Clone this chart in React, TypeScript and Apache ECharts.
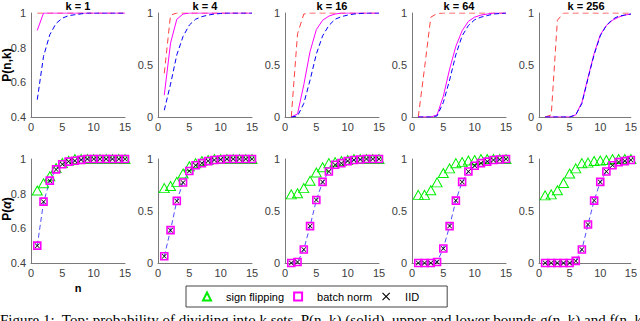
import React, { useEffect, useRef } from "react";
import * as echarts from "echarts";

const nValues = [1, 2, 3, 4, 5, 6, 7, 8, 9, 10, 11, 12, 13, 14, 15];
const kValues = [1, 4, 16, 64, 256];

// Top row: upper bound (red dashed), P(n,k) (magenta solid), lower bound (blue dashed)
const upperK1 = [1, 1, 1, 1, 1, 1, 1, 1, 1, 1, 1, 1, 1, 1, 1];
const upperK4 = [0.42, 0.98, 1, 1, 1, 1, 1, 1, 1, 1, 1, 1, 1, 1, 1];
const upperK16 = [0, 0.8, 0.99, 1, 1, 1, 1, 1, 1, 1, 1, 1, 1, 1, 1];
const upperK64 = [0, 0.47, 0.96, 0.995, 1, 1, 1, 1, 1, 1, 1, 1, 1, 1, 1];
const upperK256 = [0, 0.02, 0.93, 1, 1, 1, 1, 1, 1, 1, 1, 1, 1, 1, 1];

const probK1 = [0.9, 1, 1, 1, 1, 1, 1, 1, 1, 1, 1, 1, 1, 1, 1];
const probK4 = [0.21, 0.71, 0.94, 0.99, 1, 1, 1, 1, 1, 1, 1, 1, 1, 1, 1];
const probK16 = [0, 0.03, 0.31, 0.63, 0.84, 0.93, 0.97, 0.99, 1, 1, 1, 1, 1, 1, 1];
const probK64 = [0, 0, 0, 0.02, 0.2, 0.46, 0.68, 0.83, 0.92, 0.96, 0.98, 0.99, 1, 1, 1];
const probK256 = [0, 0, 0, 0, 0, 0.02, 0.14, 0.38, 0.61, 0.79, 0.88, 0.93, 0.96, 0.98, 0.99];

const lowerK1 = [0.5, 0.75, 0.875, 0.94, 0.97, 0.985, 0.99, 0.995, 1, 1, 1, 1, 1, 1, 1];
const lowerK4 = [0.065, 0.316, 0.597, 0.775, 0.884, 0.94, 0.965, 0.98, 0.99, 0.995, 1, 1, 1, 1, 1];
const lowerK16 = [0, 0.01, 0.13, 0.355, 0.605, 0.78, 0.88, 0.94, 0.965, 0.98, 0.99, 0.995, 1, 1, 1];
const lowerK64 = [0, 0, 0, 0.01, 0.14, 0.355, 0.6, 0.78, 0.88, 0.935, 0.96, 0.975, 0.99, 0.995, 1];
const lowerK256 = [0, 0, 0, 0, 0, 0.02, 0.13, 0.37, 0.6, 0.78, 0.88, 0.94, 0.97, 0.98, 0.99];

// Bottom row: empirical P(alpha)
const signK1 = [0.818, 0.86, 0.9, 0.948, 0.977, 0.99, 1, 1, 1, 1, 1, 1, 1, 1, 1];
const signK4 = [0.72, 0.74, 0.78, 0.86, 0.93, 0.96, 0.98, 0.99, 1, 1, 1, 1, 1, 1, 1];
const signK16 = [0.66, 0.67, 0.72, 0.79, 0.87, 0.92, 0.96, 0.97, 0.98, 0.99, 1, 1, 1, 1, 1];
const signK64 = [0.655, 0.655, 0.7, 0.775, 0.865, 0.91, 0.96, 0.97, 0.985, 0.99, 1, 1, 1, 1, 1];
const signK256 = [0.65, 0.66, 0.7, 0.77, 0.86, 0.91, 0.96, 0.965, 0.98, 0.985, 0.99, 1, 1, 1, 1];

const batchK1 = [0.5, 0.754, 0.875, 0.94, 0.97, 0.985, 0.99, 0.995, 1, 1, 1, 1, 1, 1, 1];
const batchK4 = [0.065, 0.316, 0.597, 0.774, 0.884, 0.94, 0.96, 0.98, 0.99, 0.995, 1, 1, 1, 1, 1];
const batchK16 = [0, 0.01, 0.13, 0.355, 0.606, 0.78, 0.88, 0.945, 0.96, 0.98, 0.99, 0.995, 1, 1, 1];
const batchK64 = [0, 0, 0, 0.01, 0.14, 0.355, 0.6, 0.78, 0.88, 0.935, 0.96, 0.975, 0.99, 0.995, 1];
const batchK256 = [0, 0, 0, 0, 0, 0.02, 0.13, 0.37, 0.6, 0.78, 0.88, 0.94, 0.97, 0.98, 0.99];

const iidK1 = [0.5, 0.754, 0.875, 0.94, 0.97, 0.985, 0.99, 0.995, 1, 1, 1, 1, 1, 1, 1];
const iidK4 = [0.065, 0.316, 0.597, 0.774, 0.884, 0.94, 0.96, 0.98, 0.99, 0.995, 1, 1, 1, 1, 1];
const iidK16 = [0, 0.01, 0.13, 0.355, 0.606, 0.78, 0.88, 0.945, 0.96, 0.98, 0.99, 0.995, 1, 1, 1];
const iidK64 = [0, 0, 0, 0.01, 0.14, 0.355, 0.6, 0.78, 0.88, 0.935, 0.96, 0.975, 0.99, 0.995, 1];
const iidK256 = [0, 0, 0, 0, 0, 0.02, 0.13, 0.37, 0.6, 0.78, 0.88, 0.94, 0.97, 0.98, 0.99];

const upper = [upperK1, upperK4, upperK16, upperK64, upperK256];
const prob = [probK1, probK4, probK16, probK64, probK256];
const lower = [lowerK1, lowerK4, lowerK16, lowerK64, lowerK256];
const sign = [signK1, signK4, signK16, signK64, signK256];
const batch = [batchK1, batchK4, batchK16, batchK64, batchK256];
const iid = [iidK1, iidK4, iidK16, iidK64, iidK256];

const xTicks = { min: 0, max: 15, interval: 5 };
const yTicksK1 = { min: 0.4, max: 1, interval: 0.2 };
const yTicksOther = { min: 0, max: 1, interval: 0.5 };

const captionText =
  "Figure 1:  Top: probability of dividing into k sets, P(n, k) (solid), upper and lower bounds g(n, k) and f(n, k)";

const FONT = '"Liberation Sans", Arial, sans-serif';
const X_SHAPE =
  "path://M1,0 L5,4 L9,0 L10,1 L6,5 L10,9 L9,10 L5,6 L1,10 L0,9 L4,5 L0,1 Z";

const App: React.FC = () => {
  const ref = useRef<HTMLDivElement>(null);

  useEffect(() => {
    if (!ref.current) return;
    const chart = echarts.init(ref.current, undefined, { renderer: "svg" });

    const lefts = [31, 158, 285, 412, 539];
    const width = 94;
    const grids: any[] = [];
    const xAxes: any[] = [];
    const yAxes: any[] = [];
    const series: any[] = [];
    const graphics: any[] = [];

    const axisColor = "#7a7a7a";
    const labelColor = "#404040";
    const fmt = (v: number) => String(+v.toFixed(2));

    for (let row = 0; row < 2; row++) {
      for (let i = 0; i < 5; i++) {
        const idx = row * 5 + i;
        grids.push({
          left: lefts[i],
          top: row === 0 ? 13 : 159,
          width,
          height: 104,
          containLabel: false,
        });
        xAxes.push({
          type: "value",
          gridIndex: idx,
          ...xTicks,
          axisLine: { show: true, lineStyle: { color: axisColor, width: 1 } },
          axisTick: { show: false },
          splitLine: { show: false },
          axisLabel: { fontSize: 11, color: labelColor, margin: 4, fontFamily: FONT },
        });
        const yt = i === 0 ? yTicksK1 : yTicksOther;
        yAxes.push({
          type: "value",
          gridIndex: idx,
          ...yt,
          axisLine: { show: true, lineStyle: { color: axisColor, width: 1 } },
          axisTick: { show: false },
          splitLine: { show: false },
          axisLabel: {
            fontSize: 11,
            color: labelColor,
            margin: 5,
            fontFamily: FONT,
            formatter: fmt,
          },
        });

        if (row === 0) {
          series.push({
            type: "line",
            name: "upper" + i,
            xAxisIndex: idx,
            yAxisIndex: idx,
            data: nValues.map((n, j) => [n, upper[i][j]]),
            showSymbol: false,
            lineStyle: { color: "#ff4040", width: 1, type: [6, 4] },
            silent: true,
          });
          series.push({
            type: "line",
            name: "prob" + i,
            xAxisIndex: idx,
            yAxisIndex: idx,
            data: nValues.map((n, j) => [n, prob[i][j]]),
            showSymbol: false,
            lineStyle: { color: "#ff00ff", width: 1 },
            silent: true,
          });
          series.push({
            type: "line",
            name: "lower" + i,
            xAxisIndex: idx,
            yAxisIndex: idx,
            data: nValues.map((n, j) => [n, lower[i][j]]),
            showSymbol: false,
            lineStyle: { color: "#0000ff", width: 1, type: [5, 3] },
            silent: true,
          });
        } else {
          series.push({
            type: "line",
            name: "sign flipping",
            xAxisIndex: idx,
            yAxisIndex: idx,
            data: nValues.map((n, j) => [n, sign[i][j]]),
            symbol: "triangle",
            symbolSize: [10, 9],
            itemStyle: { color: "rgba(0,0,0,0)", borderColor: "#00ee00", borderWidth: 1 },
            lineStyle: { width: 0, color: "rgba(0,0,0,0)" },
            clip: false,
            silent: true,
          });
          series.push({
            type: "line",
            name: "batch norm",
            xAxisIndex: idx,
            yAxisIndex: idx,
            data: nValues.map((n, j) => [n, batch[i][j]]),
            symbol: "rect",
            symbolSize: 7,
            itemStyle: { color: "rgba(0,0,0,0)", borderColor: "#ff00ff", borderWidth: 1.6 },
            lineStyle: { width: 0, color: "rgba(0,0,0,0)" },
            clip: false,
            silent: true,
          });
          series.push({
            type: "line",
            name: "IID",
            xAxisIndex: idx,
            yAxisIndex: idx,
            data: nValues.map((n, j) => [n, iid[i][j]]),
            symbol: X_SHAPE,
            symbolSize: 5,
            itemStyle: { color: "#000000" },
            lineStyle: { width: 0, color: "rgba(0,0,0,0)" },
            clip: false,
            silent: true,
          });
          series.push({
            type: "line",
            name: "bound" + i,
            xAxisIndex: idx,
            yAxisIndex: idx,
            data: nValues.map((n, j) => [n, lower[i][j]]),
            showSymbol: false,
            lineStyle: { color: "#2222ff", width: 0.8, type: [5, 3] },
            silent: true,
          });
        }
      }
    }

    kValues.forEach((k, i) => {
      graphics.push({
        type: "text",
        x: lefts[i] + width / 2,
        y: 6,
        style: {
          text: `k = ${k}`,
          align: "center",
          verticalAlign: "middle",
          font: `bold 11px ${FONT}`,
          fill: "#000",
        },
      });
    });

    graphics.push({
      type: "text",
      x: 7,
      y: 65,
      rotation: Math.PI / 2,
      style: {
        text: "P(n,k)",
        align: "center",
        verticalAlign: "middle",
        font: `bold 12px ${FONT}`,
        fill: "#000",
      },
    });
    graphics.push({
      type: "text",
      x: 7,
      y: 209,
      rotation: Math.PI / 2,
      style: {
        text: "{b|P(}{a|α}{b|)}",
        align: "center",
        verticalAlign: "middle",
        rich: {
          b: { font: `bold 12px ${FONT}`, fill: "#000" },
          a: { font: `italic bold 12px ${FONT}`, fill: "#000" },
        },
      },
    });
    graphics.push({
      type: "text",
      x: 78,
      y: 288,
      style: {
        text: "n",
        align: "center",
        verticalAlign: "middle",
        font: `bold 11px ${FONT}`,
        fill: "#000",
      },
    });
    graphics.push({
      type: "text",
      x: 0,
      y: 312,
      style: {
        text: captionText,
        align: "left",
        verticalAlign: "top",
        font: '15px "Liberation Serif", "Times New Roman", serif',
        fill: "#000",
      },
    });

    chart.setOption({
      animation: false,
      backgroundColor: "#ffffff",
      grid: grids,
      xAxis: xAxes,
      yAxis: yAxes,
      series,
      graphic: graphics,
      legend: {
        data: ["sign flipping", "batch norm", "IID"],
        left: 186,
        top: 286,
        orient: "horizontal",
        itemWidth: 28,
        itemHeight: 10,
        itemGap: 0,
        padding: [5, 28, 5, 7],
        borderColor: "#444",
        borderWidth: 1,
        selectedMode: false,
        textStyle: { fontSize: 11, color: "#000", fontFamily: FONT },
      },
    });

    return () => chart.dispose();
  }, []);

  return (
    <div
      ref={ref}
      style={{ position: "fixed", left: 0, top: 0, width: 640, height: 321 }}
    />
  );
};

export default App;
